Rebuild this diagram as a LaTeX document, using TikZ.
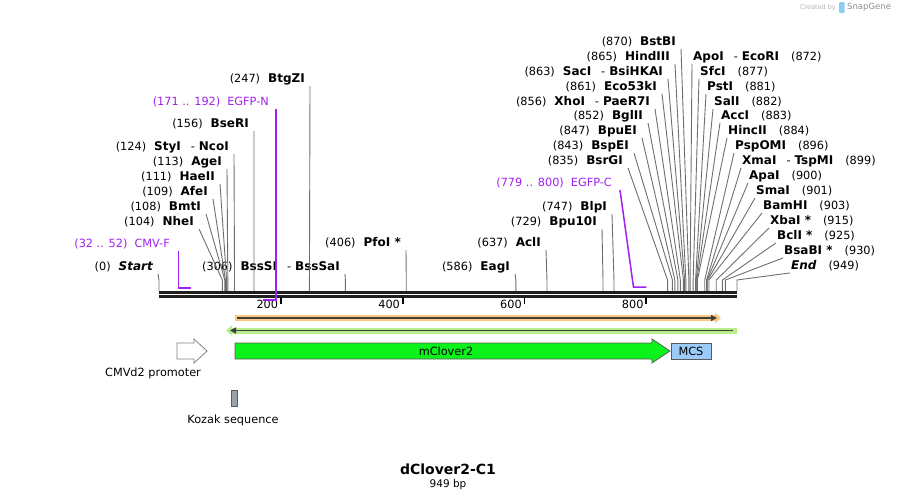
\documentclass[tikz,border=0pt]{standalone}
\usepackage{fontspec}
\setmainfont{DejaVu Sans}
\usepackage{tikz}
\usetikzlibrary{arrows.meta}
\definecolor{cutgray}{HTML}{6E6E6E}
\definecolor{primerpurple}{HTML}{A020F0}
\definecolor{orfOrange}{HTML}{FBC97F}
\definecolor{orfGreen}{HTML}{B8EE88}
\definecolor{orfDark}{HTML}{3F3F3F}
\definecolor{cloverGreen}{HTML}{0BF31B}
\definecolor{mcsBlue}{HTML}{9CCBF7}
\definecolor{kozakGray}{HTML}{9AA2AC}
\definecolor{featEdge}{HTML}{5A5A5A}
\definecolor{snapBlue}{HTML}{8CCDF2}
\newcommand{\bpx}[1]{159+0.60906*#1}
\newcommand{\enz}[1]{{\fontsize{12}{13}\selectfont\bfseries #1}}
\tikzset{
		mapfont/.style={font=\fontsize{11.3}{13}\selectfont},
		enzleft/.style={mapfont, anchor=east, inner xsep=5pt, inner ysep=1.5pt, text height=8.5pt, text depth=2pt},
		enzright/.style={enzleft, anchor=west, inner xsep=1pt},
		primerlbl/.style={enzleft, inner xsep=8pt, text=primerpurple},
		cutline/.style={draw=cutgray, line width=0.9pt},
		primer/.style={draw=primerpurple, line width=1.5pt},
		backbone/.style={draw=black!88, line width=2.7pt},
		tickmark/.style={draw=black, line width=1.8pt},
		orfband/.style={line width=6pt, -{Triangle[length=6pt,width=10pt]}},
		orfline/.style={draw=orfDark, line width=1.8pt, -{Triangle[length=6pt,width=6pt]}},
		feature/.style={draw=featEdge, line width=0.8pt}
	}

\begin{document}
\begin{tikzpicture}[x=1pt,y=-1pt]
				\useasboundingbox (0,0) rectangle (897,501);

				\foreach \b in {0,104,108,109,111,113,124,156,247,306,406,586,637,729,747,835,843,847,852,856,861,863,865,870,872,877,881,882,883,884,896,899,900,901,903,915,925,930,949}
					\coordinate (s\b) at (\bpx{\b},291);

				\node[enzleft]  (btgzi)   at (310,79)  {(247)\hskip 8pt\enz{BtgZI}};
				\node[enzleft]  (bseri)   at (254,124) {(156)\hskip 8pt\enz{BseRI}};
				\node[enzleft]  (ncoi)    at (234,147) {(124)\hskip 8pt\enz{StyI}\hskip 10pt-\hskip 4pt\enz{NcoI}};
				\node[enzleft]  (agei)    at (227,162) {(113)\hskip 8pt\enz{AgeI}};
				\node[enzleft]  (haeii)   at (220,177) {(111)\hskip 8pt\enz{HaeII}};
				\node[enzleft]  (afei)    at (213,192) {(109)\hskip 8pt\enz{AfeI}};
				\node[enzleft]  (bmti)    at (206,207) {(108)\hskip 8pt\enz{BmtI}};
				\node[enzleft]  (nhei)    at (199,222) {(104)\hskip 8pt\enz{NheI}};
				\node[enzleft]  (start)   at (158,267) {(0)\hskip 8pt\enz{\itshape Start}};
				\node[enzleft]  (bsssi)   at (345,267) {(306)\hskip 8pt\enz{BssSI}\hskip 10pt-\hskip 4pt\enz{BssSaI}};
				\node[enzleft]  (pfoi)    at (406,243) {(406)\hskip 8pt\enz{PfoI *}};
				\node[enzleft]  (eagi)    at (515,267) {(586)\hskip 8pt\enz{EagI}};
				\node[enzleft]  (acli)    at (546,243) {(637)\hskip 8pt\enz{AclI}};
				\node[enzleft]  (bpuxi)   at (602,222) {(729)\hskip 8pt\enz{Bpu10I}};
				\node[enzleft]  (blpi)    at (612,207) {(747)\hskip 8pt\enz{BlpI}};

				\node[enzleft]  (bstbi)   at (681,42)  {(870)\hskip 8pt\enz{BstBI}};
				\node[enzleft]  (hindiii) at (675,57)  {(865)\hskip 8pt\enz{HindIII}};
				\node[enzleft]  (saci)    at (668,72)  {(863)\hskip 8pt\enz{SacI}\hskip 10pt-\hskip 4pt\enz{BsiHKAI}};
				\node[enzleft]  (ecolki)  at (662,87)  {(861)\hskip 8pt\enz{Eco53kI}};
				\node[enzleft]  (xhoi)    at (655,102) {(856)\hskip 8pt\enz{XhoI}\hskip 10pt-\hskip 4pt\enz{PaeR7I}};
				\node[enzleft]  (bglii)   at (648,116) {(852)\hskip 8pt\enz{BglII}};
				\node[enzleft]  (bpuei)   at (642,131) {(847)\hskip 8pt\enz{BpuEI}};
				\node[enzleft]  (bspei)   at (634,146) {(843)\hskip 8pt\enz{BspEI}};
				\node[enzleft]  (bsrgi)   at (628,161) {(835)\hskip 8pt\enz{BsrGI}};

				\node[enzright] (ecori)   at (692,57)  {\enz{ApoI}\hskip 10pt-\hskip 4pt\enz{EcoRI}\hskip 12pt(872)};
				\node[enzright] (sfci)    at (699,72)  {\enz{SfcI}\hskip 12pt(877)};
				\node[enzright] (psti)    at (706,87)  {\enz{PstI}\hskip 12pt(881)};
				\node[enzright] (sali)    at (713,102) {\enz{SalI}\hskip 12pt(882)};
				\node[enzright] (acci)    at (720,116) {\enz{AccI}\hskip 12pt(883)};
				\node[enzright] (hincii)  at (727,131) {\enz{HincII}\hskip 12pt(884)};
				\node[enzright] (pspomi)  at (734,146) {\enz{PspOMI}\hskip 12pt(896)};
				\node[enzright] (tspmi)   at (741,161) {\enz{XmaI}\hskip 10pt-\hskip 4pt\enz{TspMI}\hskip 12pt(899)};
				\node[enzright] (apai)    at (748,176) {\enz{ApaI}\hskip 12pt(900)};
				\node[enzright] (smai)    at (755,191) {\enz{SmaI}\hskip 12pt(901)};
				\node[enzright] (bamhi)   at (762,206) {\enz{BamHI}\hskip 12pt(903)};
				\node[enzright] (xbai)    at (769,221) {\enz{XbaI *}\hskip 12pt(915)};
				\node[enzright] (bcli)    at (776,236) {\enz{BclI *}\hskip 12pt(925)};
				\node[enzright] (bsabi)   at (783,251) {\enz{BsaBI *}\hskip 12pt(930)};
				\node[enzright] (endlbl)  at (790,266) {\enz{\itshape End}\hskip 12pt(949)};

				\foreach \n/\b in {btgzi/247,bseri/156,ncoi/124,agei/113,haeii/111,afei/109,bmti/108,nhei/104,start/0,bsssi/306,pfoi/406,eagi/586,acli/637,bpuxi/729,blpi/747,bstbi/870,hindiii/865,saci/863,ecolki/861,xhoi/856,bglii/852,bpuei/847,bspei/843,bsrgi/835}
					\draw[cutline] (\n.south east) -- ([yshift=11pt]s\b) -- (s\b);
				\foreach \n/\b in {ecori/872,sfci/877,psti/881,sali/882,acci/883,hincii/884,pspomi/896,tspmi/899,apai/900,smai/901,bamhi/903,xbai/915,bcli/925,bsabi/930,endlbl/949}
					\draw[cutline] (\n.south west) -- ([yshift=11pt]s\b) -- (s\b);

				\coordinate (bbl) at (159,292.4);
				\coordinate (bbr) at (737,292.4);
				\draw[backbone] (bbl) -- (bbr);
				\draw[backbone] ([yshift=-4pt]bbl) -- ([yshift=-4pt]bbr);

				\foreach \t in {200,400,600,800}{
					\coordinate (t\t) at (\bpx{\t},297);
					\draw[tickmark] (t\t) -- ++(0,7);
					\node[mapfont, anchor=east, inner sep=0pt] (tick\t) at (\bpx{\t}-2.5,304) {\t};
				}

				\node[primerlbl] (cmvf)  at (178,244) {(32 .. 52)\hskip 7pt CMV-F};
				\node[primerlbl] (egfpn) at (277,102) {(171 .. 192)\hskip 7pt EGFP-N};
				\node[primerlbl] (egfpc) at (620,183) {(779 .. 800)\hskip 7pt EGFP-C};
				\coordinate (p32)  at (\bpx{32},288);
				\coordinate (p52)  at (\bpx{52},288);
				\coordinate (p171) at (\bpx{171},300);
				\coordinate (p192) at (\bpx{192},300);
				\coordinate (p779) at (\bpx{779},287);
				\coordinate (p800) at (\bpx{800},287);
				\draw[primer] (cmvf.south east -| p32) -- (p32) -- (p52);
				\draw[primer] (egfpn.south east -| p192) -- (p192) -- (p171);
				\draw[primer] (egfpc.south east) -- (p779) -- (p800);

				\coordinate (orfa) at (235,318);
				\coordinate (orfb) at (721,318);
				\coordinate (orfc) at (737,330.5);
				\coordinate (orfd) at (226,330.5);
				\draw[orfband, draw=orfOrange, fill=orfOrange] (orfa) -- (orfb);
				\draw[orfline] ([xshift=2pt]orfa) -- ([xshift=-4pt]orfb);
				\draw[orfband, draw=orfGreen, fill=orfGreen] (orfc) -- (orfd);
				\draw[orfline] ([xshift=-4pt]orfc) -- ([xshift=4pt]orfd);

				\draw[feature, fill=cloverGreen] (235,343) -- (652,343) -- (652,339) -- (670,351) -- (652,363) -- (652,359) -- (235,359) -- cycle;
				\node[mapfont] (clover) at (446,351) {mClover2};
				\draw[feature, fill=mcsBlue] (671,343) rectangle (711,359);
				\node[mapfont] (mcs) at (691,351) {MCS};
				\draw[feature, draw=black!50, fill=white] (177,343) -- (194,343) -- (194,339) -- (207,351) -- (194,363) -- (194,359) -- (177,359) -- cycle;
				\node[mapfont] (cmvd) at (153,373) {CMVd2 promoter};
				\draw[feature, fill=kozakGray] (231,390) rectangle (237,406);
				\node[mapfont] (kozak) at (233,420) {Kozak sequence};

				\node[font=\fontsize{14}{16}\selectfont\bfseries] (title) at (448,469) {dClover2-C1};
				\node[font=\fontsize{10.5}{12}\selectfont] (size) at (448,485) {949 bp};

				\node[font=\fontsize{6.5}{8}\selectfont, text=black!30, anchor=east, inner sep=0pt] (credit) at (836,7.5) {Created by};
				\fill[snapBlue, rounded corners=1pt] (839,2) rectangle (844.5,13);
				\node[font=\fontsize{8.5}{10}\selectfont, text=black!45, anchor=west, inner sep=0pt] (snapgene) at (847,7.5) {SnapGene};
			\end{tikzpicture}
\end{document}
